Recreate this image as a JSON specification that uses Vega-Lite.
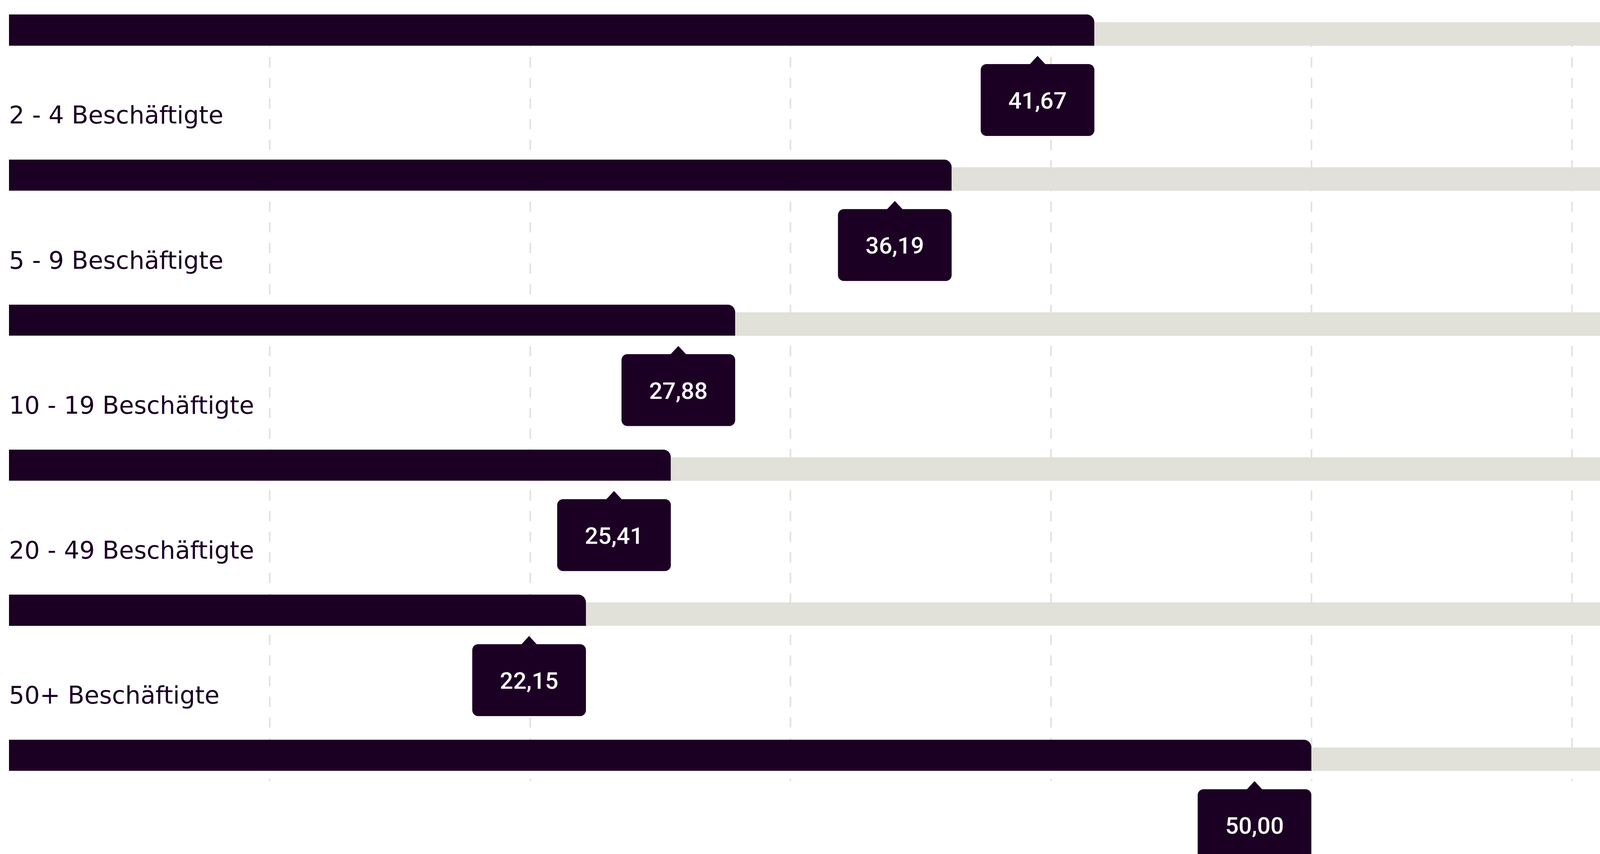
{
  "$schema": "https://vega.github.io/schema/vega-lite/v6.json",
  "width": 4575,
  "height": 1906,
  "autosize": {"type": "none"},
  "padding": {"left": 23, "top": 93, "right": 0, "bottom": 187},
  "background": "#ffffff",
  "config": {
    "view": {"stroke": null},
    "locale": {"number": {"decimal": ",", "thousands": ".", "grouping": [3], "currency": ["", " €"]}}
  },
  "data": {
    "values": [
      {"row": 0, "label": "", "value": 41.67, "total": 100},
      {"row": 1, "label": "2 - 4 Beschäftigte", "value": 36.19, "total": 100},
      {"row": 2, "label": "5 - 9 Beschäftigte", "value": 27.88, "total": 100},
      {"row": 3, "label": "10 - 19 Beschäftigte", "value": 25.41, "total": 100},
      {"row": 4, "label": "20 - 49 Beschäftigte", "value": 22.15, "total": 100},
      {"row": 5, "label": "50+ Beschäftigte", "value": 50.00, "total": 100}
    ]
  },
  "encoding": {
    "y": {
      "field": "row",
      "type": "quantitative",
      "scale": {"domain": [0.0563, 5.1633], "reverse": true, "nice": false, "zero": false},
      "axis": null
    }
  },
  "layer": [
    {
      "mark": {"type": "bar", "orient": "horizontal", "color": "#e1e0d9", "size": 60, "yOffset": 10},
      "encoding": {
        "x": {
          "field": "total",
          "type": "quantitative",
          "scale": {"domain": [0, 68.61], "clamp": true, "nice": false, "zero": true},
          "axis": {
            "orient": "top",
            "grid": true,
            "gridDash": [26.4, 26.4],
            "gridColor": "#e2e1da",
            "gridWidth": 4,
            "values": [10, 20, 30, 40, 50, 60],
            "labels": false,
            "ticks": false,
            "domain": false,
            "title": null
          }
        }
      }
    },
    {
      "mark": {"type": "bar", "orient": "horizontal", "color": "#1c0024", "size": 80, "cornerRadiusTopRight": 20},
      "encoding": {"x": {"field": "value", "type": "quantitative"}}
    },
    {
      "mark": {"type": "text", "align": "left", "baseline": "alphabetic", "dy": -132, "font": "DejaVu Sans", "fontSize": 62, "color": "#1c0024"},
      "encoding": {"x": {"datum": 0, "type": "quantitative"}, "text": {"field": "label"}}
    },
    {
      "mark": {"type": "rect", "color": "#1c0024", "cornerRadius": 15, "xOffset": -291, "yOffset": 87, "y2Offset": 271},
      "encoding": {
        "x": {"field": "value", "type": "quantitative"},
        "x2": {"field": "value"},
        "y2": {"field": "row"}
      }
    },
    {
      "mark": {"type": "point", "shape": "M-1,0.537L0,-0.537L1,0.537Z", "size": 1681, "filled": true, "color": "#1c0024", "opacity": 1, "xOffset": -145.5, "yOffset": 77},
      "encoding": {"x": {"field": "value", "type": "quantitative"}}
    },
    {
      "mark": {"type": "text", "align": "center", "baseline": "alphabetic", "dx": -145.5, "dy": 201, "font": "Roboto", "fontWeight": 500, "fontSize": 60, "color": "#ffffff"},
      "encoding": {
        "x": {"field": "value", "type": "quantitative"},
        "text": {"field": "value", "type": "quantitative", "format": ".2f"}
      }
    }
  ]
}
